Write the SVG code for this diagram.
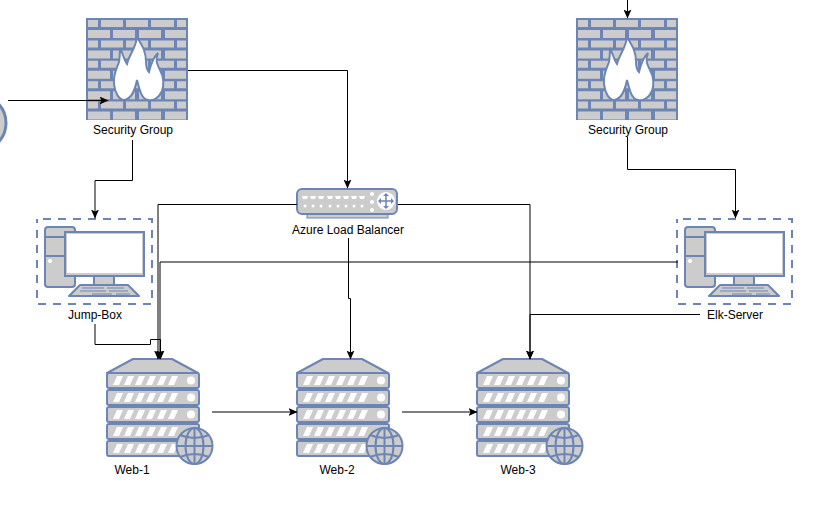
<svg xmlns="http://www.w3.org/2000/svg" xmlns:xlink="http://www.w3.org/1999/xlink" width="819" height="511" viewBox="0 0 819 511">
<style>
text{font-family:"Liberation Sans",Arial,sans-serif;font-size:12px;fill:#000;text-anchor:middle}
.b{fill:#ccc;stroke:#6c85b5;stroke-width:2;stroke-linejoin:round}
.g{fill:#ccc}
.l{fill:none;stroke:#6c85b5;stroke-width:2}
.c{fill:none;stroke:#000;stroke-width:1}
.d{fill:#fff;stroke:#6c85b5;stroke-width:2;stroke-dasharray:8 7;stroke-dashoffset:9}
</style>
<defs>
<marker id="a" viewBox="0 0 9 8" refX="8.500" refY="4" markerWidth="9" markerHeight="8" markerUnits="userSpaceOnUse" orient="auto"><path d="M0 0L9 4L0 8L2 4Z" fill="#000"/></marker>
<g id="fw">
<rect width="102" height="102" fill="#6c85b5"/>
<g class="g">
<path id="r1" d="M2 2h10v7H2zM15 2h22v7H15zM40 2h22v7H40zM65 2h23v7H65zM91 2h9v7H91z"/>
<path id="r2" d="M2 12h22v8H2zM27 12h22v8H27zM53 12h22v8H53zM79 12h21v8H79z"/>
<use xlink:href="#r1" y="20.4"/><use xlink:href="#r2" y="20.4"/>
<use xlink:href="#r1" y="40.8"/><use xlink:href="#r2" y="40.8"/>
<use xlink:href="#r1" y="61.2"/><use xlink:href="#r2" y="61.2"/>
<use xlink:href="#r1" y="81.6"/><use xlink:href="#r2" y="81.6"/>
</g>
<path d="M51 19C55 26 60 32 60 44C60 48 61 52 63 54C65 46 67 39 72 35C69 42 71 46 74 52C78 59 78 68 76 73C73 80 67 83 62 82C56 81 54 74 51 62C49 72 46 81 38 82C33 82 29 75 28 66C27 56 31 50 33 44C34 38 34 34 34 30C37 36 38 42 41 46C43 37 50 30 51 19Z" fill="#fff" stroke="#6c85b5" stroke-width="2"/>
</g>
<g id="pc">
<rect x="1" y="1" width="30" height="60" rx="3" class="b"/>
<path d="M1 11H31M1 30H31" class="l"/>
<circle cx="6" cy="35" r="2" fill="#fff"/>
<rect x="50" y="50" width="20" height="9" class="b"/>
<path d="M25 70L36 59H84L95 70Z" class="b"/>
<path d="M38 62H60M63 62H80M36 65H62M65 65H84M48 68H68M72 68H86" stroke="#6c85b5" stroke-width="1.200" fill="none"/>
<rect x="21" y="6" width="79" height="44" fill="#ccc" stroke="#6c85b5" stroke-width="2"/>
<rect x="23" y="8" width="75" height="39" fill="#fff"/>
</g>
<g id="sv">
<path d="M1 15L27 1H66L92 15Z" class="b"/>
<g id="u">
<rect x="1" y="15" width="92" height="15" rx="2" class="b"/>
<path d="M7 27L11 18H17L13 27ZM18 27L22 18H28L24 27ZM29 27L33 18H39L35 27ZM40 27L44 18H50L46 27ZM51 27L55 18H61L57 27ZM62 27L66 18H72L68 27Z" fill="#fff"/>
<circle cx="85" cy="22.500" r="4" fill="#fff"/>
</g>
<use xlink:href="#u" y="17"/><use xlink:href="#u" y="34"/><use xlink:href="#u" y="51"/><use xlink:href="#u" y="68"/>
<circle cx="88.500" cy="88" r="18" fill="#ccc" stroke="#6c85b5" stroke-width="2"/>
<g class="l"><ellipse cx="88.500" cy="88" rx="9" ry="18"/><path d="M88.500 70V106M70.500 88H106.500M74 77Q88.500 83 103 77M74 99Q88.500 93 103 99"/></g>
</g>
</defs>
<g id="internet"><circle cx="-22" cy="123" r="28" fill="#ccc" stroke="#6c85b5" stroke-width="3"/></g>
<g id="sg1"><use xlink:href="#fw" x="86" y="18"/><text x="133" y="134">Security Group</text></g>
<g id="sg2"><use xlink:href="#fw" x="576" y="18"/><text x="628" y="134">Security Group</text></g>
<g id="jump"><rect class="d" x="37" y="219" width="115" height="85"/><use xlink:href="#pc" x="44" y="226"/><text x="95" y="319">Jump-Box</text></g>
<g id="elk"><rect class="d" x="677" y="219" width="115" height="85"/><use xlink:href="#pc" x="684" y="226"/><text x="735" y="319">Elk-Server</text></g>
<g id="lb">
<rect x="307" y="212" width="81" height="6" class="g" stroke="#6c85b5" stroke-width="1"/>
<rect x="297" y="189" width="100" height="25" rx="5" fill="#ccc" stroke="#6c85b5" stroke-width="2"/>
<path d="M302 196h6l-1 3h-4zM310 196h6l-1 3h-4zM318 196h6l-1 3h-4zM327 196h6l-1 3h-4zM335 196h6l-1 3h-4zM343 196h6l-1 3h-4zM351 196h6l-1 3h-4zM359 196h6l-1 3h-4z" fill="#fff"/>
<g fill="#fff"><circle cx="305" cy="206" r="1.500"/><circle cx="313" cy="206" r="1.500"/><circle cx="321" cy="206" r="1.500"/><circle cx="330" cy="206" r="1.500"/><circle cx="338" cy="206" r="1.500"/><circle cx="346" cy="206" r="1.500"/><circle cx="354" cy="206" r="1.500"/><circle cx="362" cy="206" r="1.500"/>
<circle cx="372" cy="194" r="2"/><circle cx="372" cy="202" r="2"/><circle cx="372" cy="210" r="2"/>
<circle cx="386" cy="201" r="9"/></g>
<path d="M379 201H393M386 194V208" stroke="#6c85b5" stroke-width="1.500"/>
<path d="M381 198L378 201L381 204ZM391 198L394 201L391 204ZM383 196L386 193L389 196ZM383 206L386 209L389 206Z" fill="#6c85b5"/>
<text x="348" y="234">Azure Load Balancer</text>
</g>
<g id="web1"><use xlink:href="#sv" x="106" y="358"/><text x="132" y="474">Web-1</text></g>
<g id="web2"><use xlink:href="#sv" x="296" y="358"/><text x="337" y="474">Web-2</text></g>
<g id="web3"><use xlink:href="#sv" x="476" y="358"/><text x="518" y="474">Web-3</text></g>
<g id="connectors">
<path class="c" d="M8 100.500H108" marker-end="url(#a)"/>
<path class="c" d="M188 70.500H347.500V188" marker-end="url(#a)"/>
<path class="c" d="M132.500 140V180.500H95V218" marker-end="url(#a)"/>
<path class="c" d="M627.500 0V18" marker-end="url(#a)"/>
<path class="c" d="M627.500 137V169.500H735.500V218" marker-end="url(#a)"/>
<path class="c" d="M297 204.500H158V359" marker-end="url(#a)"/>
<path class="c" d="M398 204.500H530V359" marker-end="url(#a)"/>
<path class="c" d="M348.500 238V298.500H350.500V359" marker-end="url(#a)"/>
<path class="c" d="M95 324V344.500H150.500V339.500H160.500V359" marker-end="url(#a)"/>
<path class="c" d="M678 262H160V359" marker-end="url(#a)"/>
<path class="c" d="M700 314.500H530V359" marker-end="url(#a)"/>
<path class="c" d="M212 412H297" marker-end="url(#a)"/>
<path class="c" d="M402 412H477" marker-end="url(#a)"/>
</g>
</svg>
